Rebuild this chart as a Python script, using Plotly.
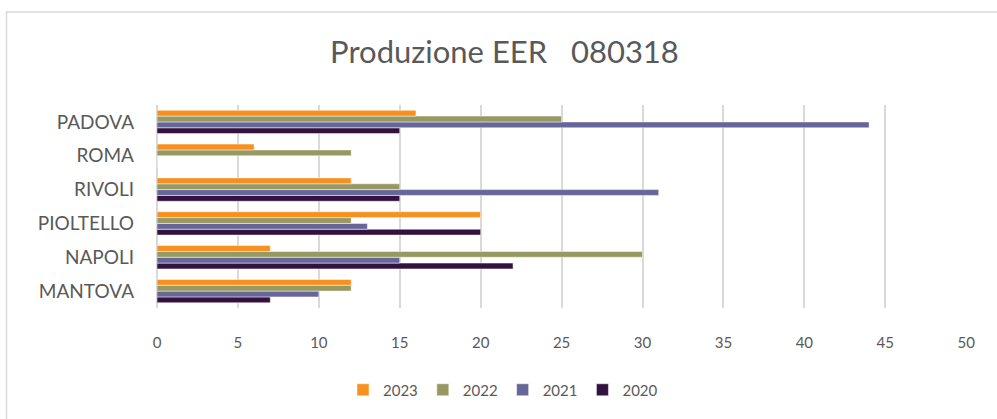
import plotly.graph_objects as go

# sites, bottom to top as they appear on the chart
sites = ['MANTOVA', 'NAPOLI', 'PIOLTELLO', 'RIVOLI', 'ROMA', 'PADOVA']

v2023 = [12, 7, 20, 12, 6, 16]
v2022 = [12, 30, 12, 15, 12, 25]
v2021 = [10, 15, 13, 31, 0, 44]
v2020 = [7, 22, 20, 15, 0, 15]

x_ticks = [0, 5, 10, 15, 20, 25, 30, 35, 40, 45, 50]

series = [
    ('2020', v2020, '#33123f'),
    ('2021', v2021, '#676698'),
    ('2022', v2022, '#989862'),
    ('2023', v2023, '#f7901e'),
]

W, H = 997, 419
L, R, T, B = 157, 30, 105, 111
pw, ph = W - L - R, H - T - B

fig = go.Figure()
for name, vals, col in series:
    fig.add_trace(go.Bar(
        y=sites, x=vals, name=name, orientation='h',
        marker=dict(color=col, line=dict(color='rgba(255,255,255,0.8)', width=0.6)),
    ))

def px_x(p):
    return (p - L) / pw

def px_y(p):
    return (H - B - p) / ph

fig.update_layout(
    width=W, height=H,
    margin=dict(l=L, r=R, t=T, b=B),
    paper_bgcolor='white', plot_bgcolor='white',
    font=dict(family='Lato, Open Sans, sans-serif', color='#595959'),
    title=dict(text='Produzione EER   080318', x=0.506, xanchor='center',
               y=1 - 52 / H, yanchor='middle',
               font=dict(size=31, color='#595959')),
    barmode='group', bargap=0.31, bargroupgap=0,
    xaxis=dict(range=[0, 50.05], tickvals=x_ticks, showgrid=True,
               gridcolor='#d9d9d9', gridwidth=1.5, zeroline=True,
               zerolinecolor='#d9d9d9', zerolinewidth=1.5, showline=False,
               tickfont=dict(size=15, color='#595959'), ticklabelstandoff=24),
    yaxis=dict(categoryorder='array', categoryarray=sites, showgrid=False,
               tickfont=dict(size=19, color='#595959'), ticklabelstandoff=22),
    legend=dict(orientation='h', traceorder='reversed', x=px_x(503), xanchor='center',
                y=px_y(390), yanchor='middle', font=dict(size=15, color='#595959'),
                itemwidth=30),
    showlegend=True,
    shapes=[dict(type='rect', xref='paper', yref='paper',
                 x0=px_x(6.5), x1=px_x(1005), y0=px_y(430), y1=px_y(12),
                 line=dict(color='#d9d9d9', width=1.5), layer='below')],
)

# drop the browser's default 8px body margin so the figure sits at the page corner
fig.write_html('out.html', config={'displayModeBar': False},
               post_script="document.body.style.margin='0';")
